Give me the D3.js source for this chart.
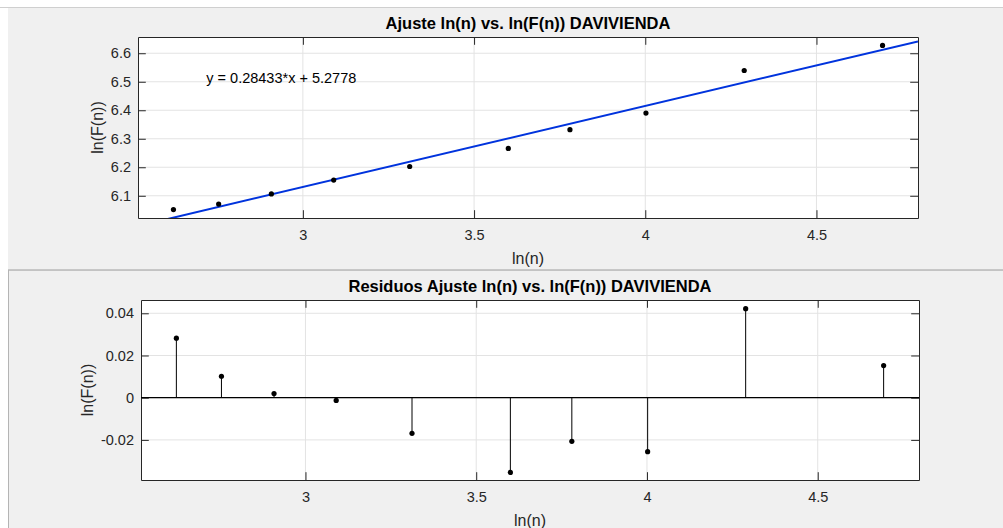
<!DOCTYPE html>
<html>
<head>
<meta charset="utf-8">
<script src="https://cdn.jsdelivr.net/npm/d3@7"></script>
<style>
  body { margin: 0; background: #fff; }
  text { font-family: "Liberation Sans", Arial, Helvetica, sans-serif; }
</style>
</head>
<body>
<svg id="fig" width="1003" height="528"></svg>
<script>
// data: ln(n), ln(F(n)) and the fit
var lnN = [2.622, 2.754, 2.908, 3.090, 3.312, 3.600, 3.780, 4.002, 4.289, 4.693];
var lnF = [6.0515, 6.0710, 6.1066, 6.1551, 6.2026, 6.2660, 6.3319, 6.3901, 6.5395, 6.6274];
var slope = 0.28433, intercept = 5.2778;
var xTicks = [3, 3.5, 4, 4.5];
var yTicksTop = [6.1, 6.2, 6.3, 6.4, 6.5, 6.6];
var yTicksBottom = [-0.02, 0, 0.02, 0.04];

var residuals = lnF.map(function(v, i) { return v - (slope * lnN[i] + intercept); });

var svg = d3.select("#fig");
var tickLen = 7.8, axisColor = "#262626", gridColor = "#e3e3e3";

// figure panels
svg.append("rect").attr("x", 8).attr("y", 7).attr("width", 995).attr("height", 262).attr("fill", "#f0f0f0");
svg.append("line").attr("x1", 0).attr("x2", 1003).attr("y1", 7.5).attr("y2", 7.5).attr("stroke", "#cfcfcf");
svg.append("rect").attr("x", 8).attr("y", 270).attr("width", 995).attr("height", 258).attr("fill", "#f0f0f0");
svg.append("line").attr("x1", 8).attr("x2", 1003).attr("y1", 270).attr("y2", 270).attr("stroke", "#b4b4b4").attr("stroke-width", 1.5);
svg.append("line").attr("x1", 8.5).attr("x2", 8.5).attr("y1", 270).attr("y2", 528).attr("stroke", "#b4b4b4");

// x limits: data range padded by 5%
var pad = (d3.max(lnN) - d3.min(lnN)) * 0.05;
var xDomain = [d3.min(lnN) - pad, d3.max(lnN) + pad];

function drawAxes(box, x, y, yTicks, fmt, title, ylabelX) {
    var g = svg.append("g");
    g.append("rect").attr("x", box.l).attr("y", box.t)
        .attr("width", box.r - box.l).attr("height", box.b - box.t).attr("fill", "#fff");

    // grid
    xTicks.forEach(function(t) {
        g.append("line").attr("x1", x(t)).attr("x2", x(t)).attr("y1", box.t).attr("y2", box.b)
            .attr("stroke", gridColor);
    });
    yTicks.forEach(function(t) {
        g.append("line").attr("x1", box.l).attr("x2", box.r).attr("y1", y(t)).attr("y2", y(t))
            .attr("stroke", gridColor);
    });

    // axes with inner ticks on all four sides
    var ax = [
        [d3.axisBottom(x).tickValues(xTicks).tickFormat(d3.format("")), box.b, "x", true],
        [d3.axisTop(x).tickValues(xTicks).tickFormat(""), box.t, "x", false],
        [d3.axisLeft(y).tickValues(yTicks).tickFormat(fmt), box.l, "y", true],
        [d3.axisRight(y).tickValues(yTicks).tickFormat(""), box.r, "y", false]
    ];
    ax.forEach(function(a) {
        var sel = g.append("g")
            .attr("transform", a[2] == "x" ? "translate(0," + a[1] + ")" : "translate(" + a[1] + ",0)")
            .call(a[0].tickSizeInner(-tickLen).tickSizeOuter(0).tickPadding(a[2] == "x" ? 12 : 7));
        sel.select(".domain").attr("stroke", axisColor);
        sel.selectAll(".tick line").attr("stroke", axisColor);
        sel.selectAll(".tick text").attr("fill", axisColor).style("font-size", "14.5px")
            .style("font-family", "'Liberation Sans', Arial, sans-serif");
        if (!a[3]) sel.selectAll(".tick text").remove();
    });

    // title and labels
    var cx = (box.l + box.r) / 2;
    g.append("text").attr("x", cx).attr("y", box.t - 8).attr("text-anchor", "middle")
        .style("font-size", "16.5px").style("font-weight", "bold").attr("fill", "#000").text(title);
    g.append("text").attr("x", cx).attr("y", box.b + 46).attr("text-anchor", "middle")
        .style("font-size", "16px").attr("fill", axisColor).text("ln(n)");
    g.append("text").attr("transform", "translate(" + ylabelX + "," + ((box.t + box.b) / 2) + ") rotate(-90)")
        .attr("text-anchor", "middle").style("font-size", "16px").attr("fill", axisColor).text("ln(F(n))");
    return g;
}

// ---- top: fit ----
var boxTop = {l: 138, r: 918, t: 37, b: 218};
var xTop = d3.scaleLinear().domain(xDomain).range([boxTop.l, boxTop.r]);
var yTop = d3.scaleLinear().domain([6.022, 6.657]).range([boxTop.b, boxTop.t]);
var gTop = drawAxes(boxTop, xTop, yTop, yTicksTop, d3.format(".1f"),
    "Ajuste ln(n) vs. ln(F(n)) DAVIVIENDA", 103);

svg.append("clipPath").attr("id", "clipTop").append("rect")
    .attr("x", boxTop.l).attr("y", boxTop.t).attr("width", boxTop.r - boxTop.l).attr("height", boxTop.b - boxTop.t);

gTop.append("line").attr("clip-path", "url(#clipTop)")
    .attr("x1", xTop(xDomain[0])).attr("y1", yTop(slope * xDomain[0] + intercept))
    .attr("x2", xTop(xDomain[1])).attr("y2", yTop(slope * xDomain[1] + intercept))
    .attr("stroke", "#0033dd").attr("stroke-width", 2);

gTop.selectAll("circle.pt").data(lnN).enter().append("circle")
    .attr("cx", function(d) { return xTop(d); })
    .attr("cy", function(d, i) { return yTop(lnF[i]); })
    .attr("r", 2.6).attr("fill", "#000");

gTop.append("text").attr("x", xTop(2.718)).attr("y", yTop(6.515)).attr("dy", "0.35em")
    .style("font-size", "14.5px").attr("fill", "#000")
    .text("y = " + slope + "*x + " + intercept);

// ---- bottom: residuals ----
var boxBot = {l: 141, r: 919, t: 300, b: 480};
var xBot = d3.scaleLinear().domain(xDomain).range([boxBot.l, boxBot.r]);
var yBot = d3.scaleLinear().domain([-0.039, 0.0463]).range([boxBot.b, boxBot.t]);
var gBot = drawAxes(boxBot, xBot, yBot, yTicksBottom,
    function(d) { return d == 0 ? "0" : d3.format(".2f")(d).replace("\u2212", "-"); },
    "Residuos Ajuste ln(n) vs. ln(F(n)) DAVIVIENDA", 93);

gBot.append("line").attr("x1", boxBot.l).attr("x2", boxBot.r)
    .attr("y1", yBot(0)).attr("y2", yBot(0)).attr("stroke", "#000").attr("stroke-width", 1.2);

gBot.selectAll("line.stem").data(residuals).enter().append("line")
    .attr("x1", function(d, i) { return xBot(lnN[i]); })
    .attr("x2", function(d, i) { return xBot(lnN[i]); })
    .attr("y1", yBot(0))
    .attr("y2", function(d) { return yBot(d); })
    .attr("stroke", "#000").attr("stroke-width", 1);

gBot.selectAll("circle.pt").data(residuals).enter().append("circle")
    .attr("cx", function(d, i) { return xBot(lnN[i]); })
    .attr("cy", function(d) { return yBot(d); })
    .attr("r", 2.6).attr("fill", "#000");
</script>
</body>
</html>
